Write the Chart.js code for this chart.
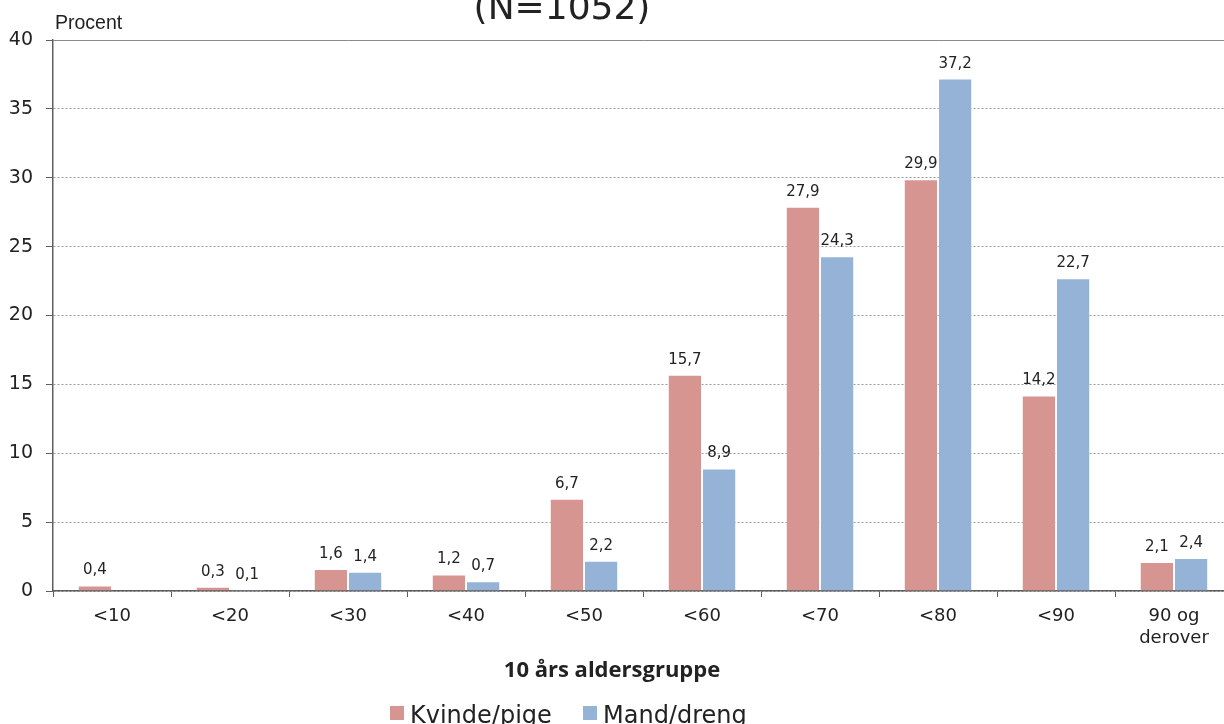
<!DOCTYPE html>
<html lang="da">
<head>
    <meta charset="UTF-8">
    <title>10 års aldersgruppe</title>
    <script src="https://cdn.jsdelivr.net/npm/chart.js"></script>
    <style>
        body {
            margin: 0;
            padding: 0;
            background: #ffffff;
            overflow: hidden;
        }

        .wrap {
            width: 1224px;
            height: 724px;
            overflow: hidden;
        }

        .inner {
            width: 1240px;
            height: 724px;
        }
    </style>
</head>
<body>
    <div class="wrap">
        <div class="inner">
            <canvas id="ageChart" width="1240" height="724"></canvas>
        </div>
    </div>

    <script>
        // Data
        const categories = ['<10', '<20', '<30', '<40', '<50', '<60', '<70', '<80', '<90', ['90 og', 'derover']];
        const kvindeValues = [0.4, 0.3, 1.6, 1.2, 6.7, 15.7, 27.9, 29.9, 14.2, 2.1];
        const mandValues = [null, 0.1, 1.4, 0.7, 2.2, 8.9, 24.3, 37.2, 22.7, 2.4];
        const seriesNames = ['Kvinde/pige', 'Mand/dreng'];
        const yTicks = [0, 5, 10, 15, 20, 25, 30, 35, 40];

        const pink = '#d79591';
        const blue = '#95b3d7';
        const textColor = '#222222';
        const axisColor = '#5f5f5f';

        // value labels above each bar, comma decimal
        const valueLabels = {
            id: 'valueLabels',
            afterDatasetsDraw(chart) {
                const ctx = chart.ctx;
                ctx.save();
                ctx.font = '15px "DejaVu Sans"';
                ctx.fillStyle = textColor;
                ctx.textAlign = 'center';
                ctx.textBaseline = 'alphabetic';
                chart.data.datasets.forEach((ds, i) => {
                    const meta = chart.getDatasetMeta(i);
                    meta.data.forEach((bar, j) => {
                        const v = ds.data[j];
                        if (v === null || v === undefined) return;
                        ctx.fillText(v.toFixed(1).replace('.', ','), bar.x, bar.y - 11);
                    });
                });
                ctx.restore();
            }
        };

        // title, axis captions and legend
        const extraText = {
            id: 'extraText',
            afterDraw(chart) {
                const ctx = chart.ctx;
                ctx.save();
                ctx.fillStyle = textColor;
                ctx.textBaseline = 'alphabetic';

                ctx.font = '36px "DejaVu Sans"';
                ctx.textAlign = 'center';
                ctx.fillText('(N=1052)', 562, 19);

                ctx.font = '19.5px "Liberation Sans"';
                ctx.textAlign = 'left';
                ctx.fillText('Procent', 55, 29);

                ctx.font = 'bold 22px "Open Sans"';
                ctx.textAlign = 'center';
                ctx.fillText('10 års aldersgruppe', 612, 677);

                // legend
                ctx.font = '24px "DejaVu Sans"';
                ctx.textAlign = 'left';
                const items = [
                    { x: 390, color: pink, label: seriesNames[0] },
                    { x: 583, color: blue, label: seriesNames[1] }
                ];
                items.forEach(it => {
                    ctx.fillStyle = it.color;
                    ctx.fillRect(it.x, 706, 14, 14);
                    ctx.fillStyle = textColor;
                    ctx.fillText(it.label, it.x + 20, 723);
                });
                ctx.restore();
            }
        };

        new Chart(document.getElementById('ageChart'), {
            type: 'bar',
            data: {
                labels: categories,
                datasets: [
                    {
                        label: seriesNames[0],
                        data: kvindeValues,
                        backgroundColor: pink,
                        borderColor: 'rgba(255,255,255,0.25)',
                        borderWidth: 1,
                        categoryPercentage: 0.58,
                        barPercentage: 1
                    },
                    {
                        label: seriesNames[1],
                        data: mandValues,
                        backgroundColor: blue,
                        borderColor: 'rgba(255,255,255,0.25)',
                        borderWidth: 1,
                        categoryPercentage: 0.58,
                        barPercentage: 1
                    }
                ]
            },
            options: {
                responsive: false,
                animation: false,
                layout: {
                    padding: { top: 40, right: 7, bottom: 0, left: 0 }
                },
                plugins: {
                    legend: { display: false },
                    title: { display: false },
                    tooltip: { enabled: false }
                },
                scales: {
                    y: {
                        min: 0,
                        max: 40,
                        afterFit: s => { s.width = 53; },
                        afterBuildTicks: s => { s.ticks = yTicks.map(v => ({ value: v })); },
                        ticks: {
                            color: textColor,
                            padding: 13,
                            font: { family: 'DejaVu Sans', size: 19 }
                        },
                        grid: {
                            color: ctx => ctx.tick && ctx.tick.value === 40 ? '#8a8a8a' : '#9a9a9a',
                            lineWidth: 1,
                            drawTicks: true,
                            tickLength: 7,
                            tickColor: axisColor,
                            tickWidth: 1
                        },
                        border: {
                            display: true,
                            color: axisColor,
                            width: 1.5,
                            dash: ctx => ctx.tick && ctx.tick.value === 40 ? [] : [2, 2]
                        }
                    },
                    x: {
                        afterFit: s => { s.height = 133; },
                        ticks: {
                            color: textColor,
                            padding: 9,
                            maxRotation: 0,
                            autoSkip: false,
                            font: { family: 'DejaVu Sans', size: 18 }
                        },
                        grid: {
                            offset: true,
                            drawOnChartArea: false,
                            drawTicks: true,
                            tickLength: 6,
                            tickColor: axisColor,
                            tickWidth: 1
                        },
                        border: {
                            display: true,
                            color: axisColor,
                            width: 1.5
                        }
                    }
                }
            },
            plugins: [valueLabels, extraText]
        });
    </script>
</body>
</html>
